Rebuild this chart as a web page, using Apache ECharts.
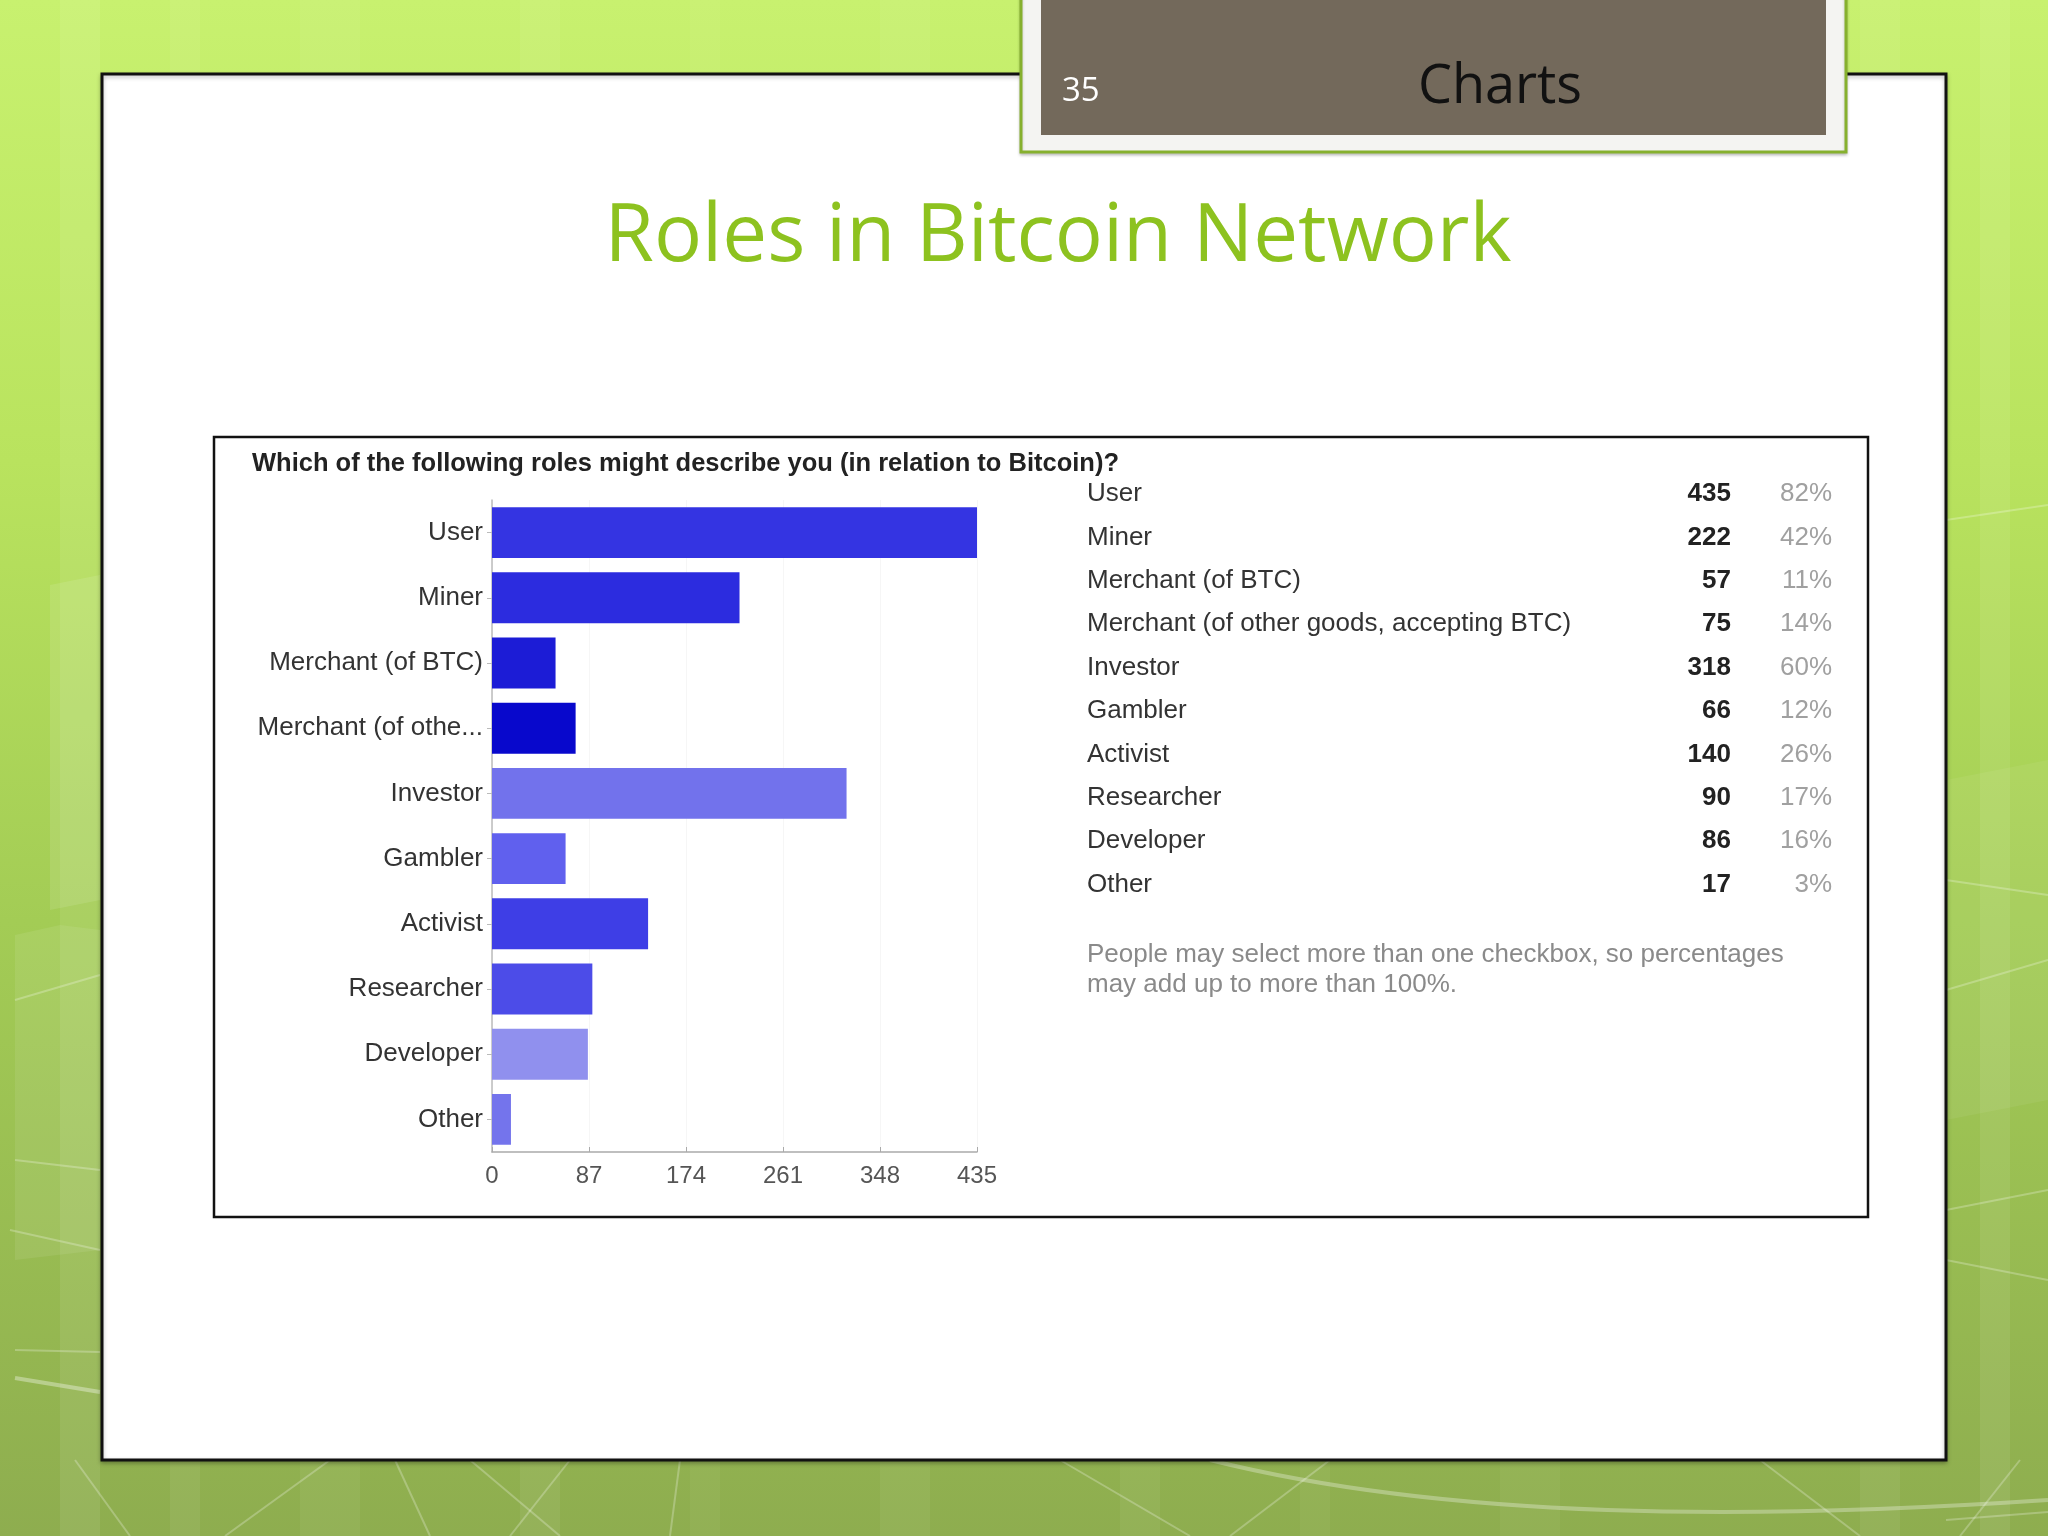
<!DOCTYPE html>
<html>
<head>
<meta charset="utf-8">
<script src="https://cdn.jsdelivr.net/npm/echarts@6/dist/echarts.min.js"></script>
<style>
html,body{margin:0;padding:0;width:2048px;height:1536px;overflow:hidden;}
body{background:linear-gradient(180deg,#c8f16f 0%,#b9e35e 30%,#a3cc55 60%,#8ead4f 100%);}
#c{width:2048px;height:1536px;}
</style>
</head>
<body>
<div id="c"></div>
<script>
// ---- data ----
const categories = ['User','Miner','Merchant (of BTC)','Merchant (of othe...','Investor','Gambler','Activist','Researcher','Developer','Other'];
const tableLabels = ['User','Miner','Merchant (of BTC)','Merchant (of other goods, accepting BTC)','Investor','Gambler','Activist','Researcher','Developer','Other'];
const counts = [435,222,57,75,318,66,140,90,86,17];
const percents = ['82%','42%','11%','14%','60%','12%','26%','17%','16%','3%'];
const xTicks = [0,87,174,261,348,435];
const barColors = ['#3434e2','#2c2cdf','#1c1cd6','#0808cc','#7272ec','#6060ee','#3e3ee6','#4c4ce8','#9090ee','#7474ec'];
const slideNumber = '35';
const headerTitle = 'Charts';
const slideTitle = 'Roles in Bitcoin Network';
const question = 'Which of the following roles might describe you (in relation to Bitcoin)?';
const footnote = ['People may select more than one checkbox, so percentages','may add up to more than 100%.'];

const chart = echarts.init(document.getElementById('c'), null, {renderer:'canvas'});

const g = [];
// background decoration: translucent stripes
const stripes = [[60,40,0.08],[170,30,0.06],[300,60,0.05],[520,40,0.06],[690,30,0.04],[880,50,0.05],[1120,40,0.05],[1300,30,0.04],[1500,60,0.04],[1860,40,0.06],[1980,30,0.08]];
stripes.forEach(s=>g.push({type:'rect',shape:{x:s[0],y:0,width:s[1],height:1536},style:{fill:'rgba(255,255,255,'+s[2]+')'},silent:true,z:0}));
// side translucent shapes
g.push({type:'polygon',shape:{points:[[50,585],[100,575],[100,900],[50,910]]},style:{fill:'rgba(255,255,255,0.10)'},z:0});
g.push({type:'polygon',shape:{points:[[15,935],[60,925],[100,930],[100,1250],[15,1260]]},style:{fill:'rgba(255,255,255,0.08)'},z:0});
g.push({type:'polygon',shape:{points:[[1946,780],[2048,760],[2048,1100],[1946,1120]]},style:{fill:'rgba(255,255,255,0.06)'},z:0});
// faint lines
const lines = [
 [[15,1000],[100,975]],[[15,1160],[100,1170]],[[10,1230],[100,1250]],[[15,1350],[100,1352]],
 [[1946,520],[2048,505]],[[1946,880],[2048,895]],[[1946,990],[2048,960]],[[1946,1210],[2048,1190]],
 [[1946,1260],[2048,1280]],[[1946,1520],[2048,1512]],
 [[75,1460],[130,1536]],[[330,1460],[225,1536]],[[395,1460],[430,1536]],[[470,1460],[560,1536]],
 [[570,1460],[510,1536]],[[680,1460],[670,1536]],[[1060,1460],[1190,1536]],[[1330,1460],[1230,1536]],
 [[1760,1460],[1860,1536]],[[2020,1460],[1960,1536]]
];
lines.forEach(l=>g.push({type:'line',shape:{x1:l[0][0],y1:l[0][1],x2:l[1][0],y2:l[1][1]},style:{stroke:'rgba(255,255,255,0.25)',lineWidth:2},z:0}));
g.push({type:'bezierCurve',shape:{x1:1210,y1:1460,cpx1:1450,cpy1:1520,cpx2:1750,cpy2:1520,x2:2048,y2:1500},style:{stroke:'rgba(255,255,255,0.30)',lineWidth:4,fill:null},z:0});
g.push({type:'line',shape:{x1:15,y1:1378,x2:100,y2:1392},style:{stroke:'rgba(255,255,255,0.35)',lineWidth:4},z:0});

// slide panel
g.push({type:'rect',shape:{x:102,y:74,width:1844,height:1386},style:{fill:'#ffffff',stroke:'#111',lineWidth:3,shadowColor:'rgba(0,0,0,0.25)',shadowBlur:4,shadowOffsetY:2},z:1});
// header box
g.push({type:'rect',shape:{x:1021,y:-6,width:825,height:158},style:{fill:'#f4f4f2',stroke:'#86b02e',lineWidth:3,shadowColor:'rgba(0,0,0,0.2)',shadowBlur:3,shadowOffsetY:2},z:2});
g.push({type:'rect',shape:{x:1041,y:0,width:785,height:135},style:{fill:'#73695b'},z:3});
g.push({type:'text',style:{text:slideNumber,x:1062,y:92,textAlign:'left',textVerticalAlign:'middle',font:'33px "Open Sans", sans-serif',fill:'#ffffff'},z:4});
g.push({type:'text',style:{text:headerTitle,x:1500,y:88,textAlign:'center',textVerticalAlign:'middle',font:'54px "Open Sans", sans-serif',fill:'#111111'},z:4});
// slide title
g.push({type:'text',style:{text:slideTitle,x:1058,y:238,textAlign:'center',textVerticalAlign:'middle',font:'80px "Open Sans", sans-serif',fill:'#8dc21f'},z:4});
// chart box
g.push({type:'rect',shape:{x:214,y:437,width:1654,height:780},style:{fill:'#ffffff',stroke:'#111',lineWidth:2.5},z:2});
g.push({type:'text',style:{text:question,x:252,y:464,textAlign:'left',textVerticalAlign:'middle',font:'bold 25.5px "Liberation Sans", Arial, sans-serif',fill:'#222'},z:4});
// table
tableLabels.forEach((lab,i)=>{
  const y = 494 + i*43.4;
  g.push({type:'text',style:{text:lab,x:1087,y:y,textAlign:'left',textVerticalAlign:'middle',font:'26px "Liberation Sans", Arial, sans-serif',fill:'#333'},z:4});
  g.push({type:'text',style:{text:String(counts[i]),x:1731,y:y,textAlign:'right',textVerticalAlign:'middle',font:'bold 26px "Liberation Sans", Arial, sans-serif',fill:'#222'},z:4});
  g.push({type:'text',style:{text:percents[i],x:1832,y:y,textAlign:'right',textVerticalAlign:'middle',font:'26px "Liberation Sans", Arial, sans-serif',fill:'#a0a0a0'},z:4});
});
footnote.forEach((t,i)=>{
  g.push({type:'text',style:{text:t,x:1087,y:955+i*30,textAlign:'left',textVerticalAlign:'middle',font:'26px "Liberation Sans", Arial, sans-serif',fill:'#8a8a8a'},z:4});
});

const option = {
  animation:false,
  backgroundColor:'transparent',
  graphic: g,
  grid:{left:492,top:500,width:485,height:652,containLabel:false,z:5},
  xAxis:{
    type:'value',min:0,max:xTicks[xTicks.length-1],interval:xTicks[1]-xTicks[0],
    axisLine:{show:true,lineStyle:{color:'#aaa',width:1.5}},
    axisTick:{show:true,length:-5,lineStyle:{color:'#aaa'}},
    splitLine:{show:true,lineStyle:{color:'#f6f6f6'}},
    axisLabel:{color:'#555',fontSize:24,margin:12,fontFamily:'"Liberation Sans", Arial, sans-serif'},
    z:5
  },
  yAxis:{
    type:'category',data:categories,inverse:true,
    axisLine:{show:true,lineStyle:{color:'#bbb',width:1.5}},
    axisTick:{show:true,alignWithLabel:true,length:5,lineStyle:{color:'#bbb'}},
    axisLabel:{color:'#333',fontSize:26,margin:9,fontFamily:'"Liberation Sans", Arial, sans-serif'},
    z:5
  },
  series:[{
    type:'bar',
    barCategoryGap:'22%',
    z:5,
    data:counts.map((v,i)=>({value:v,itemStyle:{color:barColors[i]}}))
  }]
};
chart.setOption(option);
</script>
</body>
</html>
